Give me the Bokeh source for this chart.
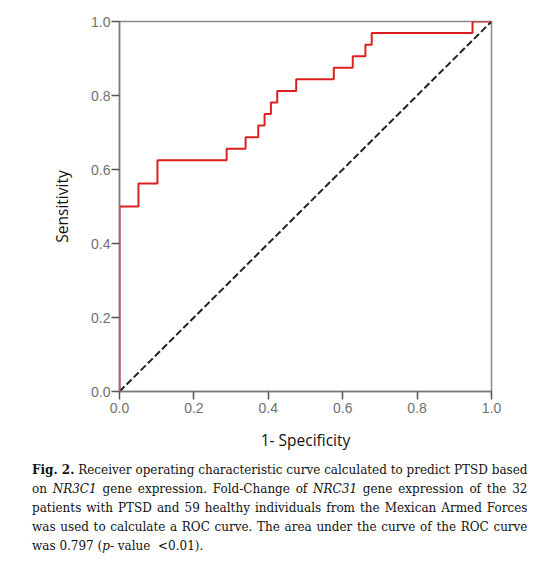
import bokeh.plotting
from bokeh.embed import file_html
from bokeh.layouts import column
from bokeh.models import Div, FixedTicker, PrintfTickFormatter, Range1d
from bokeh.resources import INLINE

# ROC curve vertices, drawn as steps
fpr = [0, 0, 0.051, 0.102, 0.288, 0.339, 0.373, 0.390, 0.407, 0.424,
       0.475, 0.576, 0.627, 0.661, 0.678, 0.949, 1.0]
tpr = [0, 0.5, 0.5625, 0.625, 0.656, 0.6875, 0.719, 0.75, 0.781, 0.8125,
       0.844, 0.875, 0.906, 0.9375, 0.969, 1.0, 1.0]

# chance diagonal
ref_x = [0, 1]
ref_y = [0, 1]

ticks = [0.0, 0.2, 0.4, 0.6, 0.8, 1.0]

caption_lines = [
    "<b>Fig. 2.</b> Receiver operating characteristic curve calculated to predict PTSD based",
    "on <i>NR3C1</i> gene expression. Fold-Change of <i>NRC31</i> gene expression of the 32",
    "patients with PTSD and 59 healthy individuals from the Mexican Armed Forces",
    "was used to calculate a ROC curve. The area under the curve of the ROC curve",
    "was 0.797 (<i>p</i>- value &nbsp;&lt;0.01).",
]

p = bokeh.plotting.figure(
    width=535,
    height=455,
    x_range=Range1d(0, 1),
    y_range=Range1d(0, 1),
    x_axis_label="1- Specificity",
    y_axis_label="Sensitivity",
    output_backend="svg",
    toolbar_location=None,
    min_border_left=119,
    min_border_right=44,
    min_border_top=21,
    min_border_bottom=64,
)

p.grid.visible = False
p.outline_line_color = "#8a8a8a"
p.outline_line_width = 1.5

for ax in (p.xaxis, p.yaxis):
    ax.ticker = FixedTicker(ticks=ticks)
    ax.formatter = PrintfTickFormatter(format="%.1f")
    ax.minor_tick_line_color = None
    ax.axis_line_color = "#7a7a7a"
    ax.axis_line_width = 1.5
    ax.major_tick_line_color = "#555555"
    ax.major_tick_line_width = 1.5
    ax.major_tick_in = 0
    ax.major_tick_out = 8
    ax.major_label_text_font = "Liberation Sans"
    ax.major_label_text_font_size = "14px"
    ax.major_label_text_color = "#707070"
    ax.axis_label_text_font = "Open Sans"
    ax.axis_label_text_font_size = "15.5px"
    ax.axis_label_text_font_style = "normal"
    ax.axis_label_text_color = "#111111"

p.xaxis.major_label_standoff = 3
p.yaxis.major_label_standoff = 1
p.xaxis.axis_label_standoff = 13
p.yaxis.axis_label_standoff = 15

p.line(ref_x, ref_y, line_color="#222222", line_width=2, line_dash="7 3")
p.step(fpr, tpr, mode="after", line_color="#dd1f1f", line_width=2)

# caption, one justified block per printed line
parts = []
for i, line in enumerate(caption_lines):
    last = "left" if i == len(caption_lines) - 1 else "justify"
    parts.append(
        f'<div style="text-align:justify;text-align-last:{last};white-space:nowrap;">{line}</div>'
    )

caption = Div(
    text="".join(parts),
    width=495,
    margin=(6, 0, 0, 32),
    styles={
        "font-family": "DejaVu Serif",
        "font-size": "12px",
        "line-height": "19px",
        "color": "#111111",
    },
)

layout = column(p, caption, spacing=0)

open("out.html", "w").write(file_html(layout, INLINE))
